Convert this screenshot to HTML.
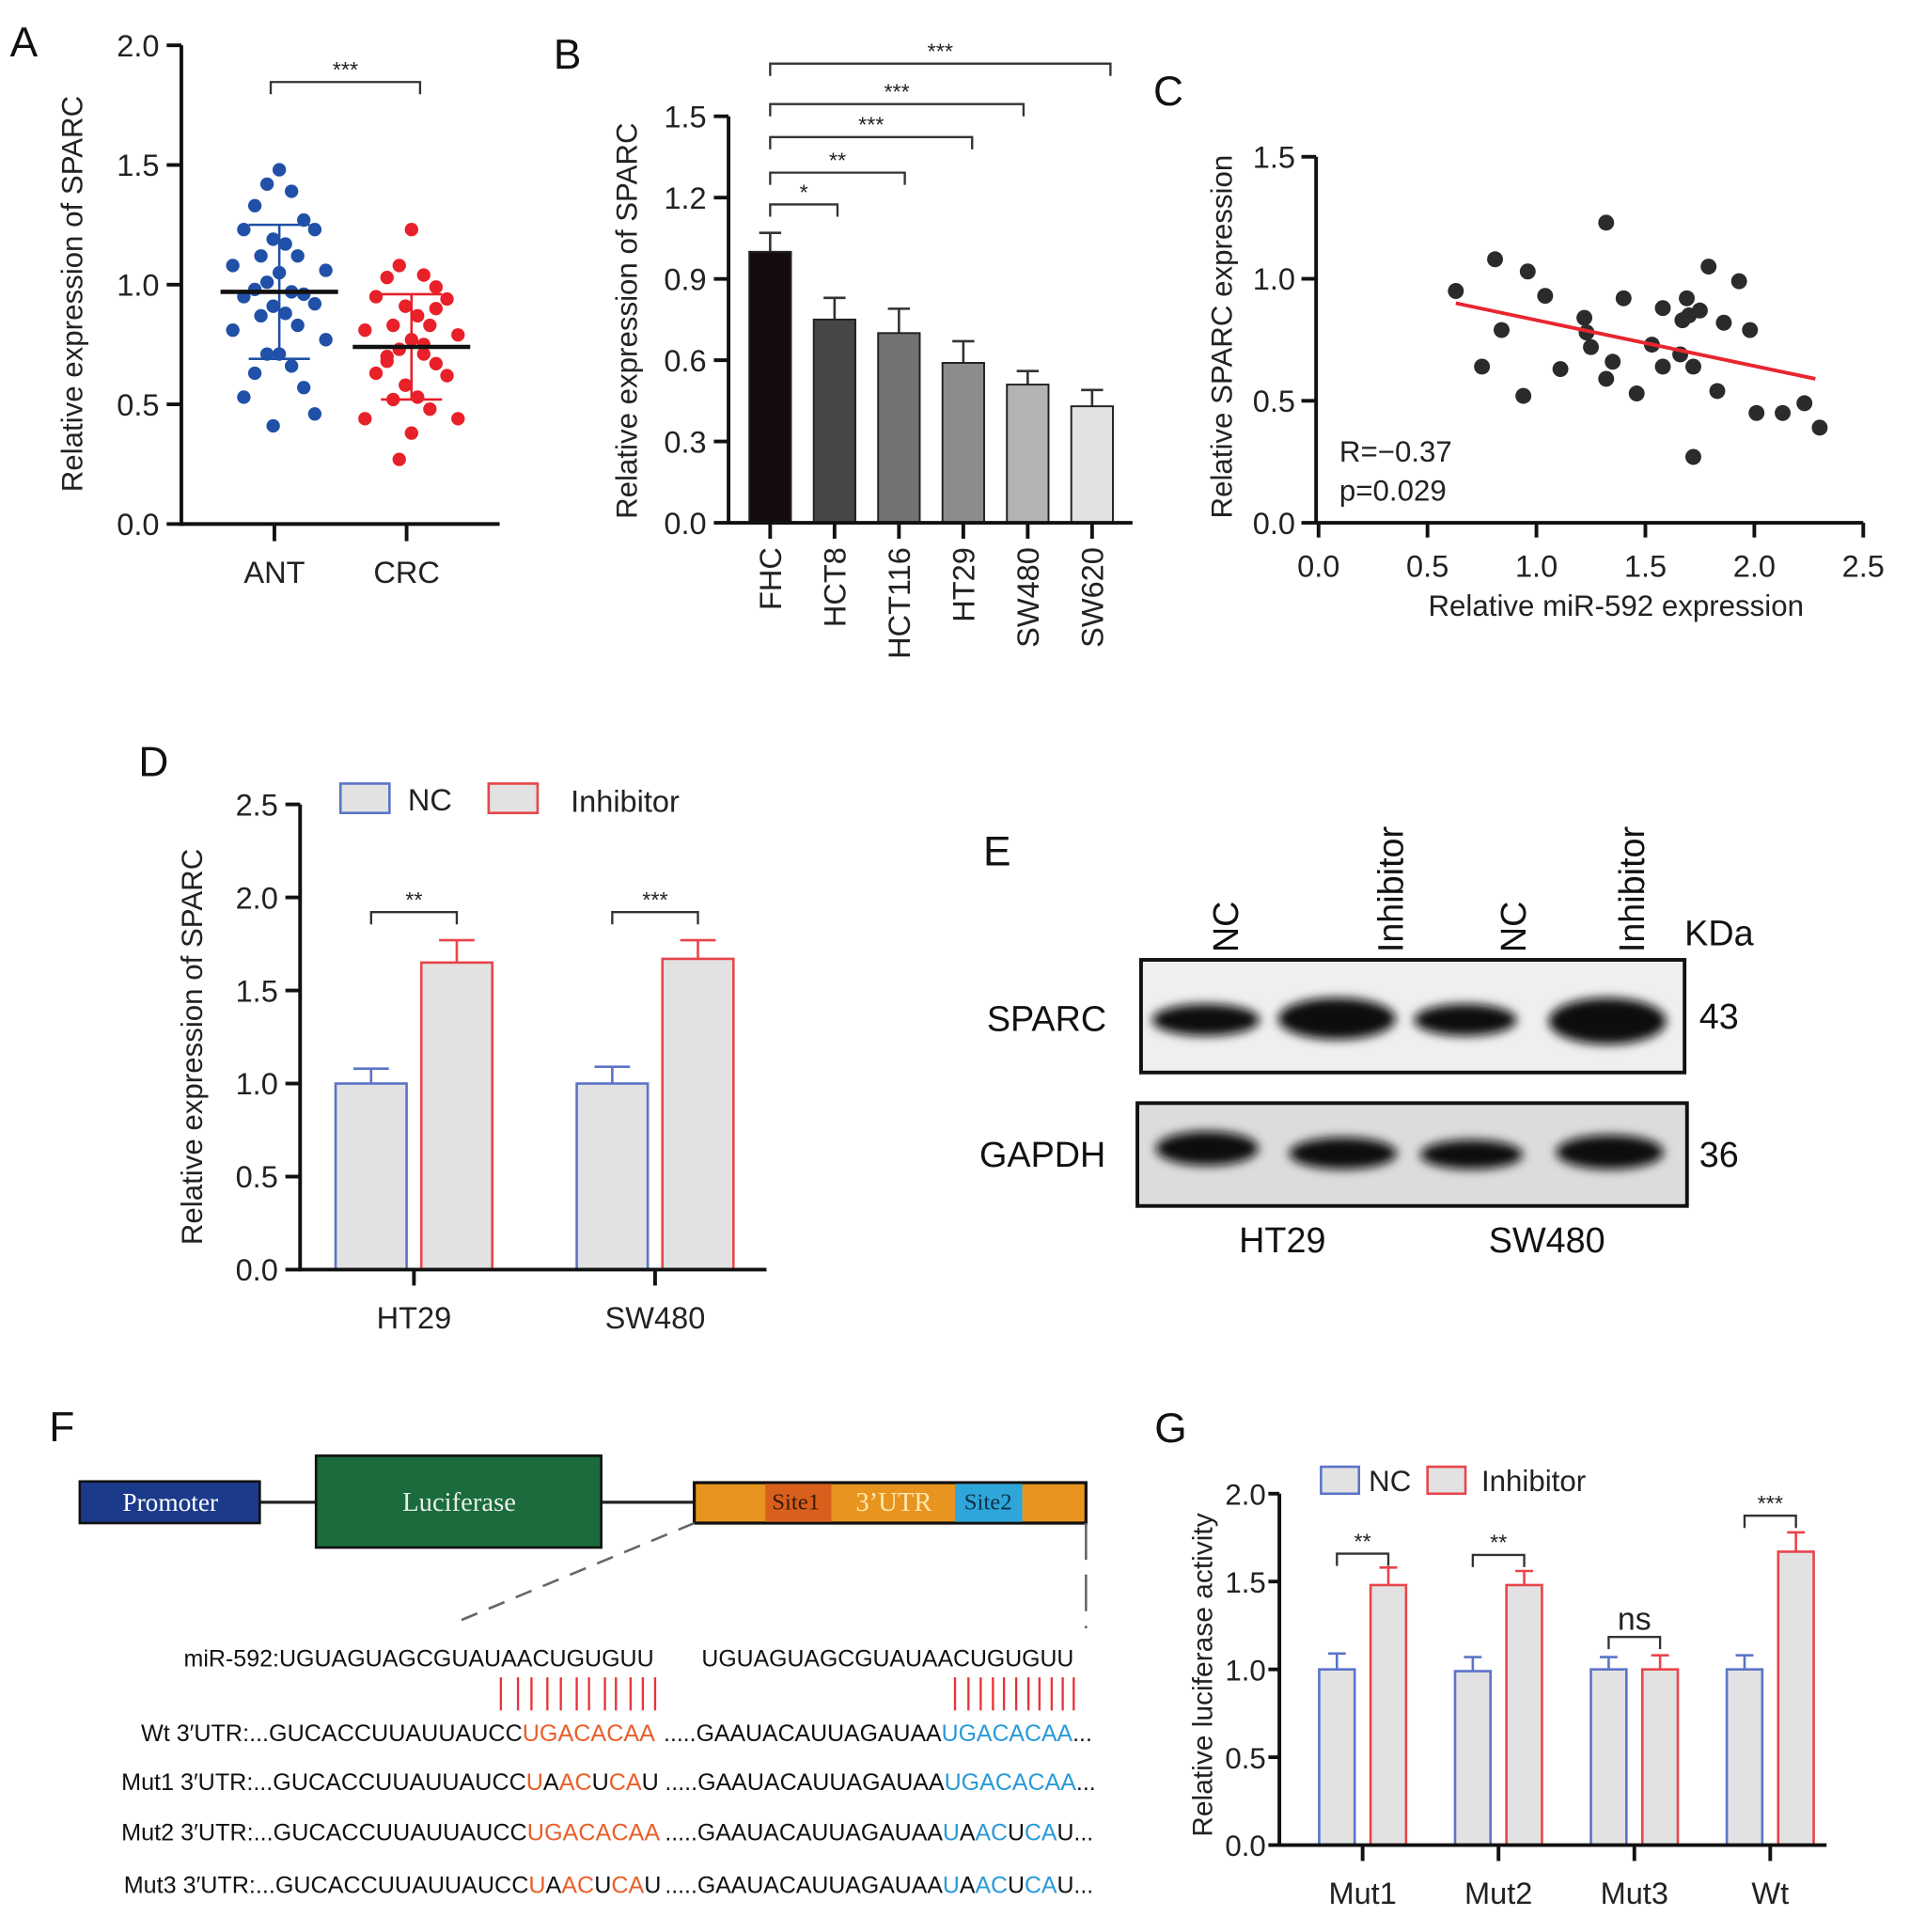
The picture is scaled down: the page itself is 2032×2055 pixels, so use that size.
<!DOCTYPE html>
<html><head><meta charset="utf-8">
<style>
html,body{margin:0;padding:0;background:#fff;}
svg{display:block;font-family:"Liberation Sans",Arial,sans-serif;}
</style></head>
<body>
<svg id="fig" width="2032" height="2055" viewBox="0 0 1560 1578" xmlns="http://www.w3.org/2000/svg">
<g font-size="34" fill="#111">
<text x="8" y="46">A</text><text x="452" y="56">B</text><text x="942" y="86">C</text>
<text x="113" y="634">D</text><text x="803" y="707">E</text><text x="40" y="1177">F</text><text x="943" y="1178">G</text>
</g>

<!-- Panel E western blot -->
<g>
<defs><filter id="blur" x="-20%" y="-50%" width="140%" height="200%"><feGaussianBlur stdDeviation="4"/></filter></defs>
<g font-size="29" fill="#111">
<text transform="translate(1011,778) rotate(-90)">NC</text>
<text transform="translate(1146,778) rotate(-90)">Inhibitor</text>
<text transform="translate(1246,778) rotate(-90)">NC</text>
<text transform="translate(1343,778) rotate(-90)">Inhibitor</text>
<text x="1376" y="772">KDa</text>
<text x="806" y="842">SPARC</text><text x="800" y="953">GAPDH</text>
<text x="1388" y="840">43</text><text x="1388" y="953">36</text>
<text x="1012" y="1023">HT29</text><text x="1216" y="1023">SW480</text>
</g>
<rect x="932" y="784" width="444" height="92" fill="#efefef" stroke="#111" stroke-width="3"/>
<rect x="929" y="901" width="449" height="84" fill="#dcdcdc" stroke="#111" stroke-width="3"/>
<g fill="#0a0a0a" filter="url(#blur)">
<ellipse cx="985" cy="833" rx="44" ry="13"/><ellipse cx="1092" cy="832" rx="48" ry="17"/>
<ellipse cx="1197" cy="833" rx="42" ry="13"/><ellipse cx="1313" cy="834" rx="48" ry="19"/>
<ellipse cx="986" cy="938" rx="42" ry="14"/><ellipse cx="1097" cy="942" rx="44" ry="13"/>
<ellipse cx="1202" cy="943" rx="42" ry="12"/><ellipse cx="1315" cy="941" rx="44" ry="14"/>
</g>
</g>

<!-- Panel F construct -->
<g font-family="Liberation Serif,serif">
<line x1="212" y1="1227" x2="260" y2="1227" stroke="#222" stroke-width="2.5"/>
<line x1="491" y1="1227" x2="567" y2="1227" stroke="#222" stroke-width="2.5"/>
<rect x="65" y="1210" width="147" height="34" fill="#1c3a8a" stroke="#111" stroke-width="2"/>
<text x="139" y="1234" font-size="21" fill="#fff" text-anchor="middle">Promoter</text>
<rect x="258" y="1189" width="233" height="75" fill="#1b6b3c" stroke="#111" stroke-width="2"/>
<text x="375" y="1234" font-size="22" fill="#e8f0e8" text-anchor="middle">Luciferase</text>
<rect x="567" y="1211" width="320" height="33" fill="#e7951e" stroke="#111" stroke-width="2.5"/>
<rect x="625" y="1212" width="54" height="31" fill="#d8601c"/>
<rect x="780" y="1212" width="55" height="31" fill="#2ea6d9"/>
<text x="650" y="1233" font-size="19" fill="#3a1a08" text-anchor="middle">Site1</text>
<text x="730" y="1234" font-size="22" fill="#ffe8b0" text-anchor="middle">3’UTR</text>
<text x="807" y="1233" font-size="19" fill="#10304a" text-anchor="middle">Site2</text>
<line x1="567" y1="1244" x2="370" y2="1326" stroke="#666" stroke-width="2" stroke-dasharray="14,10"/>
<line x1="887" y1="1244" x2="887" y2="1330" stroke="#666" stroke-width="2" stroke-dasharray="30,12"/>
</g>
<g font-size="19.3" fill="#111" font-family="Liberation Sans,sans-serif">
<text x="534" y="1361" text-anchor="end" textLength="384" lengthAdjust="spacingAndGlyphs">miR-592:UGUAGUAGCGUAUAACUGUGUU</text>
<text x="573" y="1361" textLength="304" lengthAdjust="spacingAndGlyphs">UGUAGUAGCGUAUAACUGUGUU</text>
<g stroke="#e8333a" stroke-width="1.8">
<line x1="409" y1="1370" x2="409" y2="1397"/><line x1="423" y1="1370" x2="423" y2="1397"/><line x1="434" y1="1370" x2="434" y2="1397"/><line x1="447" y1="1370" x2="447" y2="1397"/><line x1="458" y1="1370" x2="458" y2="1397"/><line x1="471" y1="1370" x2="471" y2="1397"/><line x1="481" y1="1370" x2="481" y2="1397"/><line x1="494" y1="1370" x2="494" y2="1397"/><line x1="503" y1="1370" x2="503" y2="1397"/><line x1="515" y1="1370" x2="515" y2="1397"/><line x1="525" y1="1370" x2="525" y2="1397"/><line x1="535" y1="1370" x2="535" y2="1397"/>
<line x1="780" y1="1370" x2="780" y2="1397"/><line x1="791" y1="1370" x2="791" y2="1397"/><line x1="801" y1="1370" x2="801" y2="1397"/><line x1="811" y1="1370" x2="811" y2="1397"/><line x1="820" y1="1370" x2="820" y2="1397"/><line x1="830" y1="1370" x2="830" y2="1397"/><line x1="840" y1="1370" x2="840" y2="1397"/><line x1="849" y1="1370" x2="849" y2="1397"/><line x1="859" y1="1370" x2="859" y2="1397"/><line x1="868" y1="1370" x2="868" y2="1397"/><line x1="877" y1="1370" x2="877" y2="1397"/>
</g>
<text x="115" y="1422" textLength="420" lengthAdjust="spacingAndGlyphs">Wt 3′UTR:...GUCACCUUAUUAUCC<tspan fill="#e8602a">UGACACAA</tspan></text>
<text x="99" y="1462" textLength="439" lengthAdjust="spacingAndGlyphs">Mut1 3′UTR:...GUCACCUUAUUAUCC<tspan fill="#e8602a">U</tspan>A<tspan fill="#e8602a">AC</tspan>U<tspan fill="#e8602a">CA</tspan>U</text>
<text x="99" y="1503" textLength="440" lengthAdjust="spacingAndGlyphs">Mut2 3′UTR:...GUCACCUUAUUAUCC<tspan fill="#e8602a">UGACACAA</tspan></text>
<text x="101" y="1546" textLength="439" lengthAdjust="spacingAndGlyphs">Mut3 3′UTR:...GUCACCUUAUUAUCC<tspan fill="#e8602a">U</tspan>A<tspan fill="#e8602a">AC</tspan>U<tspan fill="#e8602a">CA</tspan>U</text>
<text x="542" y="1422" textLength="350" lengthAdjust="spacingAndGlyphs">.....GAAUACAUUAGAUAA<tspan fill="#2a9ad8">UGACACAA</tspan>...</text>
<text x="543" y="1462" textLength="352" lengthAdjust="spacingAndGlyphs">.....GAAUACAUUAGAUAA<tspan fill="#2a9ad8">UGACACAA</tspan>...</text>
<text x="543" y="1503" textLength="350" lengthAdjust="spacingAndGlyphs">.....GAAUACAUUAGAUAA<tspan fill="#2a9ad8">U</tspan>A<tspan fill="#2a9ad8">AC</tspan>U<tspan fill="#2a9ad8">CA</tspan>U...</text>
<text x="543" y="1546" textLength="350" lengthAdjust="spacingAndGlyphs">.....GAAUACAUUAGAUAA<tspan fill="#2a9ad8">U</tspan>A<tspan fill="#2a9ad8">AC</tspan>U<tspan fill="#2a9ad8">CA</tspan>U...</text>
</g>
<g id="charts"></g>
</svg>
<script>
// Panel A data
const antValues=[1.48,1.42,1.39,1.33,1.27,1.23,1.23,1.19,1.17,1.12,1.12,1.08,1.06,1.05,1.01,0.97,0.98,0.96,0.95,0.92,0.91,0.88,0.87,0.83,0.81,0.77,0.71,0.71,0.66,0.63,0.57,0.53,0.46,0.41];
const crcValues=[1.23,1.08,1.04,1.03,0.99,0.95,0.94,0.91,0.87,0.83,0.83,0.81,0.79,0.77,0.73,0.71,0.68,0.67,0.63,0.62,0.58,0.53,0.52,0.48,0.44,0.44,0.38,0.27,0.75,0.70,0.90];
const groupsA=["ANT","CRC"];
const meanA=[0.97,0.74]; const sdA=[0.28,0.22];
const ticksA=["0.0","0.5","1.0","1.5","2.0"];
// Panel B data
const cellLines=["FHC","HCT8","HCT116","HT29","SW480","SW620"];
const cellValues=[1.0,0.75,0.70,0.59,0.51,0.43];
const cellErrors=[0.07,0.08,0.09,0.08,0.05,0.06];
const ticksB=["0.0","0.3","0.6","0.9","1.2","1.5"];
const sigB=["*","**","***","***","***"];
// Panel C data
const mirX=[0.63,0.81,0.96,1.04,0.84,0.75,0.94,1.11,1.22,1.23,1.25,1.32,1.35,1.32,1.40,1.46,1.53,1.58,1.58,1.67,1.69,1.70,1.75,1.66,1.72,1.72,1.79,1.86,1.83,1.93,1.98,2.01,2.13,2.23,2.30];
const sparcY=[0.95,1.08,1.03,0.93,0.79,0.64,0.52,0.63,0.84,0.78,0.72,1.23,0.66,0.59,0.92,0.53,0.73,0.64,0.88,0.83,0.92,0.85,0.87,0.69,0.64,0.27,1.05,0.82,0.54,0.99,0.79,0.45,0.45,0.49,0.39];
const fitLine=[[0.63,0.90],[2.28,0.59]];
const ticksCx=["0.0","0.5","1.0","1.5","2.0","2.5"];
const ticksCy=["0.0","0.5","1.0","1.5"];
// Panel D data
const groupsD=["HT29","SW480"];
const ncD=[1.0,1.0]; const ncDErr=[0.08,0.09];
const inhD=[1.65,1.67]; const inhDErr=[0.12,0.10];
const sigD=["**","***"];
const ticksD=["0.0","0.5","1.0","1.5","2.0","2.5"];
// Panel G data
const groupsG=["Mut1","Mut2","Mut3","Wt"];
const ncG=[1.0,0.99,1.0,1.0]; const ncGErr=[0.09,0.08,0.07,0.08];
const inhG=[1.48,1.48,1.0,1.67]; const inhGErr=[0.10,0.08,0.08,0.11];
const sigG=["**","**","ns","***"];
const ticksG=["0.0","0.5","1.0","1.5","2.0"];

const NS="http://www.w3.org/2000/svg";
const root=document.getElementById('charts');
function mk(tag,attrs,parent,text){const e=document.createElementNS(NS,tag);for(const k in attrs)e.setAttribute(k,attrs[k]);if(text!==undefined)e.textContent=text;(parent||root).appendChild(e);return e;}
function line(p,x1,y1,x2,y2,c,w){return mk('line',{x1,y1,x2,y2,stroke:c||'#111','stroke-width':w||3},p);}
function yAxis(p,x,y0,y1,ticks,tmax,fs,tl,lo){tl=tl||12;lo=lo||18;line(p,x,y0+1.5,x,y1);ticks.forEach((t,i)=>{const y=y0-(y0-y1)*(+t)/tmax;line(p,x-tl,y,x,y);mk('text',{x:x-lo,y:y+9,'font-size':fs||25,'text-anchor':'end',fill:'#222'},p,t);});}
function bracket(p,x1,x2,y,label,fs){mk('path',{d:`M${x1} ${y+10}V${y}H${x2}V${y+10}`,fill:'none',stroke:'#333','stroke-width':1.8},p);mk('text',{x:(x1+x2)/2,y:label==='ns'?y-6:y-4,'font-size':fs||18,'text-anchor':'middle',fill:'#222'},p,label);}

// ===== Panel A =====
const gA=mk('g',{});


const A0=428,A1=37,AX=148;
const ay=v=>A0-(A0-A1)*v/2;
const axA=[228,336];
const jit=[0,-10,10,-20,20,-29,29,-5,5,-15,15,-38,38];
[antValues,crcValues].forEach((vals,gi)=>{
  const col=gi===0?'#2050a8':'#e8202a';
  vals.forEach((v,i)=>{const c=mk('circle',{cx:axA[gi]+jit[i%jit.length],cy:ay(v),r:5.5,fill:col},gA);
    
    });
  line(gA,axA[gi],ay(meanA[gi]+sdA[gi]),axA[gi],ay(meanA[gi]-sdA[gi]),col,2);
  line(gA,axA[gi]-25,ay(meanA[gi]+sdA[gi]),axA[gi]+25,ay(meanA[gi]+sdA[gi]),col,2);
  line(gA,axA[gi]-25,ay(meanA[gi]-sdA[gi]),axA[gi]+25,ay(meanA[gi]-sdA[gi]),col,2);
  line(gA,axA[gi]-48,ay(meanA[gi]),axA[gi]+48,ay(meanA[gi]),'#111',3.5);
  line(gA,axA[gi]-4,A0,axA[gi]-4,A0+14);
  mk('text',{x:axA[gi]-4,y:A0+48,'font-size':25,'text-anchor':'middle',fill:'#222'},gA,groupsA[gi]);
});
yAxis(gA,AX,A0,A1,ticksA,2);
line(gA,AX-1.5,A0,408,A0);
bracket(gA,221,343,67,"***");
mk('text',{transform:'translate(67,240) rotate(-90)','font-size':24,'text-anchor':'middle',fill:'#222'},gA,'Relative expression of SPARC');

// ===== Panel B =====
const gB=mk('g',{});


const B0=427,B1=95,BX=595;
const by=v=>B0-(B0-B1)*v/1.5;
const bx=i=>629+i*52.6;
const bcol=['#150a0e','#474747','#727272','#8c8c8c','#b3b3b3','#e2e2e2'];
cellValues.forEach((v,i)=>{
  line(gB,bx(i),by(v+cellErrors[i]),bx(i),by(v),'#333',2);
  line(gB,bx(i)-9,by(v+cellErrors[i]),bx(i)+9,by(v+cellErrors[i]),'#333',2);
  const r=mk('rect',{x:bx(i)-17,y:by(v),width:34,height:B0-by(v),fill:bcol[i],stroke:'#222','stroke-width':1.5},gB);
  
  
  line(gB,bx(i),B0,bx(i),B0+13);
  mk('text',{transform:`translate(${bx(i)+9},${B0+20}) rotate(-90)`,'font-size':25,'text-anchor':'end',fill:'#222'},gB,cellLines[i]);
});
yAxis(gB,BX,B0,B1,ticksB,1.5);
line(gB,BX-1.5,B0,925,B0);
const bY=[167,141,112,85,52], bEnd=[684,739,794,836,907];
sigB.forEach((s,k)=>bracket(gB,bx(0),bEnd[k],bY[k],s));
mk('text',{transform:'translate(520,262) rotate(-90)','font-size':24,'text-anchor':'middle',fill:'#222'},gB,'Relative expression of SPARC');

// ===== Panel C =====
const gC=mk('g',{});


const CX0=1077,CXs=178,CY0=427,CYs=199.3;
const cx=v=>CX0+CXs*v, cy=v=>CY0-CYs*v;
line(gC,1075,128,1075,CY0+1.5);
ticksCy.forEach(t=>{line(gC,1063,cy(+t),1075,cy(+t));mk('text',{x:1058,y:cy(+t)+9,'font-size':25,'text-anchor':'end',fill:'#222'},gC,t);});
line(gC,1073.5,CY0,1522,CY0);
ticksCx.forEach(t=>{line(gC,cx(+t),CY0,cx(+t),CY0+12);mk('text',{x:cx(+t),y:CY0+44,'font-size':25,'text-anchor':'middle',fill:'#222'},gC,t);});
mirX.forEach((x,i)=>{const c=mk('circle',{cx:cx(x),cy:cy(sparcY[i]),r:6.5,fill:'#2b2b2b'},gC);
  
  });
const fl=line(gC,cx(fitLine[0][0]),cy(fitLine[0][1]),cx(fitLine[1][0]),cy(fitLine[1][1]),'#e8262e',3);


mk('text',{x:1094,y:377,'font-size':24,fill:'#222'},gC,'R=−0.37');
mk('text',{x:1094,y:409,'font-size':24,fill:'#222'},gC,'p=0.029');
mk('text',{x:1320,y:503,'font-size':24,'text-anchor':'middle',fill:'#222'},gC,'Relative miR-592 expression');
mk('text',{transform:'translate(1006,275) rotate(-90)','font-size':24,'text-anchor':'middle',fill:'#222'},gC,'Relative SPARC expression');

// ===== grouped bar helper =====
function grouped(g,cfg){
  const {Y0,Y1,X,tmax,ticks,groups,nc,ncE,inh,inhE,sig,cxs,off,bw,xend,sigY,fs,tfs,tl,lo}=cfg;
  const yy=v=>Y0-(Y0-Y1)*v/tmax;
  groups.forEach((name,i)=>{
    [[nc,ncE,'#5b74c8',-off],[inh,inhE,'#e8454b',off]].forEach(([vals,errs,col,o],k)=>{
      const c=cxs[i]+o, v=vals[i];
      line(g,c,yy(v+errs[i]),c,yy(v),col,2);
      line(g,c-bw/4,yy(v+errs[i]),c+bw/4,yy(v+errs[i]),col,2);
      const r=mk('rect',{x:c-bw/2,y:yy(v),width:bw,height:Y0-yy(v),fill:'#e2e2e2',stroke:col,'stroke-width':2},g);
      
      
    });
    line(g,cxs[i],Y0,cxs[i],Y0+13);
    mk('text',{x:cxs[i],y:Y0+48,'font-size':fs,'text-anchor':'middle',fill:'#222'},g,name);
    bracket(g,cxs[i]-off,cxs[i]+off,sigY[i],sig[i],sig[i]==='ns'?26:18);
  });
  yAxis(g,X,Y0,Y1,ticks,tmax,tfs,tl,lo);
  line(g,X-1.5,Y0,xend,Y0);
}

// ===== Panel D =====
const gD=mk('g',{});


grouped(gD,{Y0:1037,Y1:657,X:245,tmax:2.5,ticks:ticksD,groups:groupsD,nc:ncD,ncE:ncDErr,inh:inhD,inhE:inhDErr,sig:sigD,cxs:[338,535],off:35,bw:58,xend:626,sigY:[745,745],fs:25});
mk('text',{transform:'translate(165,855) rotate(-90)','font-size':24,'text-anchor':'middle',fill:'#222'},gD,'Relative expression of SPARC');
const lgD=mk('g',{},gD);


mk('rect',{x:278,y:640,width:40,height:24,fill:'#e2e2e2',stroke:'#5b74c8','stroke-width':2},lgD);
mk('text',{x:333,y:662,'font-size':25,fill:'#222'},lgD,'NC');
mk('rect',{x:399,y:640,width:40,height:24,fill:'#e2e2e2',stroke:'#e8454b','stroke-width':2},lgD);
mk('text',{x:466,y:663,'font-size':25,fill:'#222'},lgD,'Inhibitor');

// ===== Panel G =====
const gG=mk('g',{});


grouped(gG,{Y0:1507,Y1:1220,X:1045,tmax:2.0,ticks:ticksG,groups:groupsG,nc:ncG,ncE:ncGErr,inh:inhG,inhE:inhGErr,sig:sigG,cxs:[1113,1224,1335,1446],off:21,bw:29,xend:1492,sigY:[1269,1270,1337,1238],fs:25,tfs:24,tl:9,lo:11});
mk('text',{transform:'translate(990,1368) rotate(-90)','font-size':23,'text-anchor':'middle',fill:'#222'},gG,'Relative luciferase activity');
const lgG=mk('g',{},gG);


mk('rect',{x:1079,y:1198,width:31,height:22,fill:'#e2e2e2',stroke:'#5b74c8','stroke-width':2},lgG);
mk('text',{x:1118,y:1218,'font-size':24,fill:'#222'},lgG,'NC');
mk('rect',{x:1166,y:1198,width:31,height:22,fill:'#e2e2e2',stroke:'#e8454b','stroke-width':2},lgG);
mk('text',{x:1210,y:1218,'font-size':24,fill:'#222'},lgG,'Inhibitor');
</script>
</body></html>
